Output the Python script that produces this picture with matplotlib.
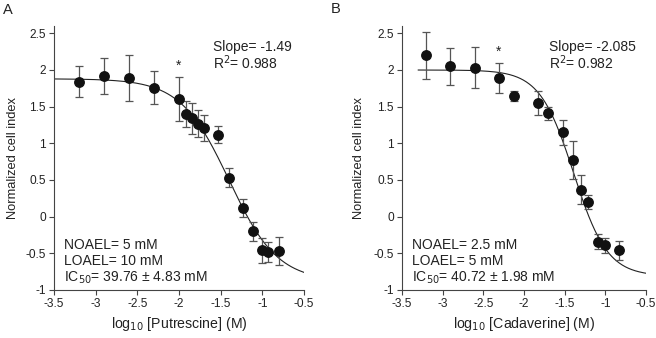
"""Dose-response panels: putrescine and cadaverine"""

import numpy as np
import matplotlib
matplotlib.use('Agg')
import matplotlib.pyplot as plt

plt.rcParams['font.family'] = ['Liberation Sans', 'DejaVu Sans']

# Panel A - putrescine
put_x = [-3.2, -2.9, -2.6, -2.3, -2.0, -1.91, -1.84, -1.77, -1.70, -1.53,
         -1.40, -1.23, -1.11, -1.0, -0.93, -0.80]
put_y = [1.84, 1.92, 1.89, 1.76, 1.60, 1.40, 1.34, 1.27, 1.21, 1.12,
         0.53, 0.12, -0.20, -0.46, -0.48, -0.47]
put_err = [0.21, 0.25, 0.31, 0.22, 0.30, 0.18, 0.21, 0.18, 0.18, 0.12,
           0.13, 0.12, 0.13, 0.17, 0.14, 0.19]
put_fit = dict(top=1.88, bottom=-0.88, logic50=-1.40, hill=1.49)
put_star = -2.0

# Panel B - cadaverine
cad_x = [-3.21, -2.91, -2.60, -2.31, -2.12, -1.83, -1.70, -1.52, -1.40,
         -1.30, -1.21, -1.09, -1.0, -0.83]
cad_y = [2.20, 2.05, 2.03, 1.89, 1.65, 1.55, 1.41, 1.15, 0.77,
         0.37, 0.20, -0.34, -0.39, -0.46]
cad_err = [0.32, 0.25, 0.28, 0.20, 0.07, 0.17, 0.09, 0.17, 0.26,
           0.20, 0.10, 0.10, 0.10, 0.13]
cad_fit = dict(top=2.0, bottom=-0.81, logic50=-1.39, hill=2.085)
cad_star = -2.31

x_ticks = [-3.5, -3, -2.5, -2, -1.5, -1, -0.5]
y_ticks = [-1, -0.5, 0, 0.5, 1, 1.5, 2, 2.5]


def hill(x, top, bottom, logic50, hill):
    return bottom + (top - bottom) / (1 + 10 ** ((x - logic50) * hill))


def panel(ax, xs, ys, errs, fit, fit_start, star_x, compound, slope, r2,
          noael, loael, ic50, slope_x, ylab_x):
    xf = np.linspace(fit_start, -0.5, 300)
    ax.plot(xf, hill(xf, **fit), color='#222222', lw=0.8, zorder=2)
    ax.errorbar(xs, ys, yerr=errs, fmt='o', color='#111111', ms=6.8,
                ecolor='#555555', elinewidth=0.9, capsize=3.2, capthick=0.9,
                zorder=3)
    i = xs.index(star_x)
    ax.text(star_x, ys[i] + errs[i] + 0.16, '*', ha='center', va='center',
            fontsize=10, color='#222222')
    ax.set_xlim(-3.5, -0.5)
    ax.set_ylim(-1, 2.6)
    ax.set_xticks(x_ticks)
    ax.set_xticklabels([f'{t:g}' for t in x_ticks])
    ax.set_yticks(y_ticks)
    ax.set_yticklabels([f'{t:g}' for t in y_ticks])
    for s in ['top', 'right']:
        ax.spines[s].set_visible(False)
    for s in ['left', 'bottom']:
        ax.spines[s].set_color('#444444')
        ax.spines[s].set_linewidth(0.8)
    ax.tick_params(direction='out', length=3.5, width=0.8, color='#444444',
                   labelsize=8.6, labelcolor='#222222', pad=2.5)
    ax.set_ylabel('Normalized cell index', fontsize=9.3, color='#222222',
                  va='center')
    ax.yaxis.set_label_coords(ylab_x, 0.5)
    ax.set_xlabel(r'log$_{10}$ [' + compound + '] (M)', fontsize=10.2,
                  color='#222222', va='center')
    ax.xaxis.set_label_coords(0.5, -0.13)
    ax.text(slope_x, 2.32, f'Slope= {slope}', fontsize=10, va='center',
            color='#222222')
    ax.text(slope_x, 2.1, f'R$^2$= {r2}', fontsize=10, va='center',
            color='#222222')
    nx = -3.38
    ax.text(nx, -0.38, f'NOAEL= {noael}', fontsize=10, va='center',
            color='#222222')
    ax.text(nx, -0.60, f'LOAEL= {loael}', fontsize=10, va='center',
            color='#222222')
    ax.text(nx, -0.83, f'IC$_{{50}}$= {ic50}', fontsize=10, va='center',
            color='#222222')


fig = plt.figure(figsize=(6.56, 3.38), dpi=100)
ax1 = fig.add_axes([54 / 656, 1 - 290 / 338, 250 / 656, 264 / 338])
ax2 = fig.add_axes([402 / 656, 1 - 290 / 338, 244 / 656, 264 / 338])

panel(ax1, put_x, put_y, put_err, put_fit, -3.5, put_star, 'Putrescine',
      '-1.49', '0.988', '5 mM', '10 mM', '39.76 ± 4.83 mM', -1.59, -0.164)
panel(ax2, cad_x, cad_y, cad_err, cad_fit, -3.3, cad_star, 'Cadaverine',
      '-2.085', '0.982', '2.5 mM', '5 mM', '40.72 ± 1.98 mM', -1.69, -0.175)

fig.text(3 / 656, 1 - 10 / 338, 'A', fontsize=10.5, va='center',
         color='#222222')
fig.text(331 / 656, 1 - 9 / 338, 'B', fontsize=10.5, va='center',
         color='#222222')

fig.savefig('out.png', dpi=100)
plt.close(fig)
